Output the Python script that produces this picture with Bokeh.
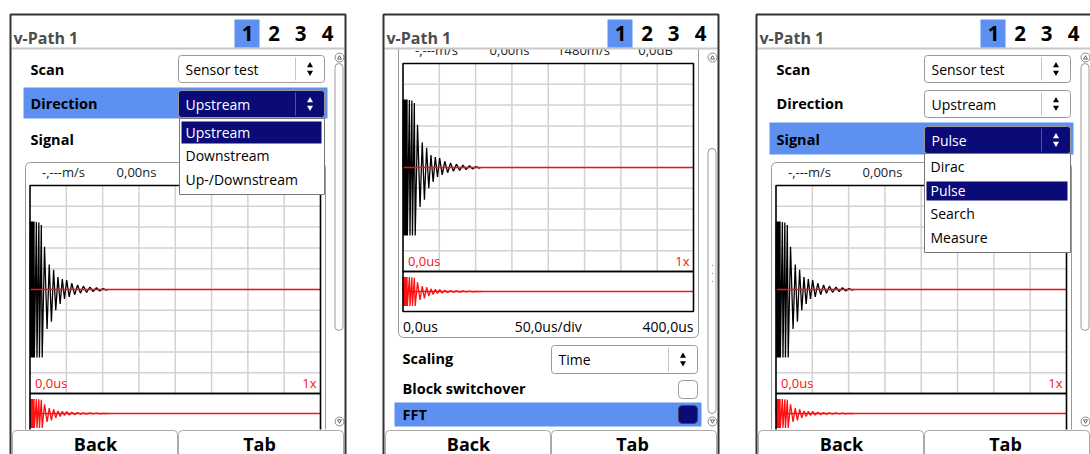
from bokeh.plotting import figure
from bokeh.models import Range1d
from bokeh.core.properties import value
from bokeh.embed import file_html
from bokeh.resources import INLINE

# ---------------- data (texts and values) ----------------
TITLE = "v-Path 1"
TABS = ["1", "2", "3", "4"]
ROWS = ["Scan", "Direction", "Signal"]
SCAN_VALUE = "Sensor test"
DIRECTION_OPTIONS = ["Upstream", "Downstream", "Up-/Downstream"]
SIGNAL_OPTIONS = ["Dirac", "Pulse", "Search", "Measure"]
SCOPE_READOUT = ["-,---m/s", "0,00ns", "1480m/s", "0,0dB"]
SCOPE_START = "0,0us"
SCOPE_ZOOM = "1x"
TIME_AXIS = ["0,0us", "50,0us/div", "400,0us"]
OPTION_ROWS = ["Scaling", "Block switchover", "FFT"]
SCALING_VALUE = "Time"
BUTTONS = ["Back", "Tab"]

T_SPAN_US = 400.0      # 8 divisions x 50 us
T_DIV_US = 50.0
V_DIVS = 10            # vertical divisions (-5 .. +5)
LOWER_HALF = 4.5       # overview strip half height in the same units

# sensor-test echo: time in us, amplitude in divisions
wave_t = [0.0, 0.5, 1.0, 1.5, 2.0, 2.5, 3.0, 3.5, 4.0, 4.5, 5.0, 5.5, 6.0,
          8.8, 9.6, 12.2, 13.0, 15.6, 16.8,
          20.0, 23.5, 26.5, 29.5, 32.5, 35.5, 38.5, 41.5, 44.5, 47.5,
          50.5, 54.0, 57.5, 61.5, 65.5, 69.5, 73.5, 78.0, 82.5, 87.0,
          91.5, 96.0, 100.5, 105.0, 107.0]
wave_v = [0.0, 3.27, -3.27, 3.27, -3.27, 3.27, -3.27, 3.27, -3.27, 3.27, -3.27, 3.27, -3.27,
          3.25, -3.27, 3.22, -3.27, 3.1, -3.27,
          2.05, -1.9, 1.2, -1.55, 0.95, -1.0, 0.6, -0.7, 0.5, -0.45,
          0.45, -0.35, 0.3, -0.25, 0.22, -0.18, 0.16, -0.14, 0.12, -0.1,
          0.09, -0.07, 0.05, -0.03, 0.0]

# ---------------- styling ----------------
HILITE = "#5d90f0"
NAVY = "#0b0b78"
BORDER = "#9a9a9a"
GRID = "#d2d2d2"
FRAME = "#333333"
RED = "#ff1010"
FONT = value("Open Sans")

W, H = 1090, 454
X0, X1 = 0, 1090
Y0, Y1 = 0, 454

p = figure(width=W, height=H, x_range=Range1d(X0, X1), y_range=Range1d(Y1, Y0),
           x_axis_type=None, y_axis_type=None, toolbar_location=None,
           output_backend="svg", min_border=0, outline_line_color=None,
           background_fill_color="white", border_fill_color="white")


def T(x, y, s, size=14, color="black", bold=False, align="left"):
    p.text(x=[x], y=[y], text=[s], text_font=FONT, text_font_size=f"{size}px",
           text_color=color, text_font_style="bold" if bold else "normal",
           text_align=align, text_baseline="middle")


def Q(l, t, r, b, fill="white", line=None, lw=1.0, radius=0):
    kw = dict(left=[l], right=[r], top=[t], bottom=[b], fill_color=fill,
              line_color=line, line_width=lw)
    if radius:
        kw["border_radius"] = radius
    p.quad(**kw)


def L(xs, ys, color, lw=1.0):
    p.line(x=xs, y=ys, line_color=color, line_width=lw)


def updown(x, y, color):
    p.scatter(x=[x], y=[y - 3.5], marker="triangle", size=6, fill_color=color, line_color=None)
    p.scatter(x=[x], y=[y + 3.5], marker="inverted_triangle", size=6, fill_color=color, line_color=None)


def dropdown(ox, top, bottom, label, active):
    fill = NAVY if active else "white"
    tc = "white" if active else "black"
    Q(ox + 178, top, ox + 324, bottom, fill=fill, line=BORDER, radius=3)
    L([ox + 295, ox + 295], [top + 2, bottom - 2], "#4a55a0" if active else "#c4c4c4")
    T(ox + 185, (top + bottom) / 2, label, 14, tc)
    updown(ox + 309.5, (top + bottom) / 2, tc)


def checkbox(ox, top, bottom, filled):
    Q(ox + 305, top, ox + 324, bottom, fill=NAVY if filled else "white",
      line="#444" if filled else BORDER, radius=4)


def scope(tag, left, right, top, sep, bottom):
    sx = T_SPAN_US / (right - left)
    p.extra_x_ranges[tag] = Range1d(-(left - X0) * sx, (X1 - left) * sx)
    half = V_DIVS / 2
    sy = V_DIVS / (sep - top)
    p.extra_y_ranges[tag + "u"] = Range1d(-half - (Y1 - sep) * sy, half + (top - Y0) * sy)
    sy2 = 2 * LOWER_HALF / (bottom - sep)
    p.extra_y_ranges[tag + "l"] = Range1d(-LOWER_HALF - (Y1 - bottom) * sy2,
                                          LOWER_HALF + (sep - Y0) * sy2)
    up = dict(x_range_name=tag, y_range_name=tag + "u")
    lo = dict(x_range_name=tag, y_range_name=tag + "l")
    n_t = int(T_SPAN_US / T_DIV_US)
    vx = [T_DIV_US * k for k in range(1, n_t)]
    p.segment(x0=vx, y0=[-half] * len(vx), x1=vx, y1=[half] * len(vx),
              line_color=GRID, line_width=1.5, **up)
    hy = [k for k in range(-int(half) + 1, int(half))]
    p.segment(x0=[0] * len(hy), y0=hy, x1=[T_SPAN_US] * len(hy), y1=hy,
              line_color=GRID, line_width=1.5, **up)
    p.line(x=wave_t, y=wave_v, line_color="black", line_width=1.3, **up)
    p.line(x=[0, T_SPAN_US], y=[0, 0], line_color=RED, line_width=1.3, **up)
    p.quad(left=[0], right=[T_SPAN_US], bottom=[-half], top=[half], fill_color=None,
           line_color="black", line_width=1.6, **up)
    p.line(x=wave_t, y=wave_v, line_color=RED, line_width=1.3, **lo)
    p.line(x=[0, T_SPAN_US], y=[0, 0], line_color=RED, line_width=1.3, **lo)
    p.quad(left=[0], right=[T_SPAN_US], bottom=[-LOWER_HALF], top=[LOWER_HALF],
           fill_color=None, line_color="black", line_width=1.6, **lo)
    T(left + 5, sep - 11, SCOPE_START, 13, RED)
    T(right - 4, sep - 11, SCOPE_ZOOM, 13, RED, align="right")


def panel(ox, mode, tag):
    scrolled = mode == "fft"
    dy = -122 if scrolled else 0
    Q(ox + 10, 14, ox + 345, 470, fill="white")
    # setting rows (scrolled out of view in the FFT panel)
    if not scrolled:
        if mode == "direction":
            Q(ox + 23, 87, ox + 327, 118, fill=HILITE)
        if mode == "signal":
            Q(ox + 23, 122, ox + 327, 154, fill=HILITE)
        for lab, yc in zip(ROWS, [69, 103, 139]):
            T(ox + 30, yc, lab, 14.5, bold=True)
        dropdown(ox, 55, 82, SCAN_VALUE, False)
        dropdown(ox, 90, 117, DIRECTION_OPTIONS[0], mode == "direction")
        if mode == "signal":
            dropdown(ox, 126, 153, SIGNAL_OPTIONS[1], True)
    # scope block
    Q(ox + 25, 162 + dy, ox + 325, 459 + dy, fill="white", line=BORDER, radius=5)
    readouts = SCOPE_READOUT if scrolled else SCOPE_READOUT[:2]
    for s, xc in zip(readouts, [63, 136, 210, 282]):
        T(ox + xc, 171 + dy, s, 13, "#222222", align="center")
    left, right = ox + 29.5, ox + 320
    scope(tag, left, right, 185 + dy, 393 + dy, 433 + dy)
    if scrolled:
        T(left, 448 + dy, TIME_AXIS[0], 14)
        T((left + right) / 2, 448 + dy, TIME_AXIS[1], 14, align="center")
        T(right, 448 + dy, TIME_AXIS[2], 14, align="right")
        # option rows
        T(ox + 29, 480 + dy, OPTION_ROWS[0], 14.5, bold=True)
        dropdown(ox, 467 + dy, 495 + dy, SCALING_VALUE, False)
        T(ox + 29, 510 + dy, OPTION_ROWS[1], 14.5, bold=True)
        checkbox(ox, 502 + dy, 520 + dy, False)
        Q(ox + 21, 524 + dy, ox + 328, 548 + dy, fill=HILITE)
        T(ox + 29, 536 + dy, OPTION_ROWS[2], 14.5, bold=True)
        checkbox(ox, 527 + dy, 545 + dy, True)
    # open drop-down lists
    if mode == "direction":
        Q(ox + 179, 118, ox + 324, 194, fill="white", line="#777777")
        Q(ox + 181, 121, ox + 321, 143, fill=NAVY)
        for i, (s, yc) in enumerate(zip(DIRECTION_OPTIONS, [132, 155, 179])):
            T(ox + 185, yc, s, 14, "white" if i == 0 else "black")
    if mode == "signal":
        Q(ox + 178, 153, ox + 324, 252, fill="white", line="#777777")
        Q(ox + 180, 181, ox + 321, 200, fill=NAVY)
        for i, (s, yc) in enumerate(zip(SIGNAL_OPTIONS, [166, 190, 213, 237])):
            T(ox + 184, yc, s, 14, "white" if i == 1 else "black")
    # scrollbar
    tt, tb = (148, 413) if scrolled else (63, 330)
    Q(ox + 334.5, tt, ox + 342.5, tb, fill="white", line=BORDER, radius=4)
    p.scatter(x=[ox + 339, ox + 339], y=[57, 421], marker="circle", size=9,
              fill_color="white", line_color="#888888")
    p.scatter(x=[ox + 339], y=[57.5], marker="triangle", size=4, fill_color=None, line_color="#666666")
    p.scatter(x=[ox + 339], y=[420.5], marker="inverted_triangle", size=4, fill_color=None, line_color="#666666")
    if scrolled:
        p.scatter(x=[ox + 339] * 3, y=[265, 273, 281], marker="circle", size=1.5,
                  fill_color="#999999", line_color=None)
    # header (also masks anything scrolled above the panel)
    Q(ox + 5, Y0 - 20, ox + 350, 13, fill="white")
    Q(ox + 11, 13, ox + 344, 47.5, fill="white")
    L([ox + 11, ox + 344], [48, 48], "#c8c8c8", 2)
    Q(ox + 234, 19, ox + 259, 47, fill=HILITE)
    T(ox + 13, 37, TITLE, 16, "#4d4d4d", bold=True)
    for s, xc in zip(TABS, [247, 273.5, 300, 327]):
        T(ox + xc, 33, s, 20.5, "black", bold=True, align="center")
    # buttons
    Q(ox + 11, 429, ox + 344, 470, fill="white")
    Q(ox + 12, 430, ox + 177, 480, fill="white", line="#aaaaaa", radius=4)
    Q(ox + 178, 430, ox + 343, 480, fill="white", line="#aaaaaa", radius=4)
    T(ox + 95, 443, BUTTONS[0], 18, bold=True, align="center")
    T(ox + 259, 443, BUTTONS[1], 18, bold=True, align="center")
    # outer frame
    L([ox + 10, ox + 10, ox + 345, ox + 345], [470, 14, 14, 470], FRAME, 2)


panel(0, "direction", "s1")
panel(373, "fft", "s2")
panel(746, "signal", "s3")

open("out.html", "w").write(file_html(p, INLINE))
